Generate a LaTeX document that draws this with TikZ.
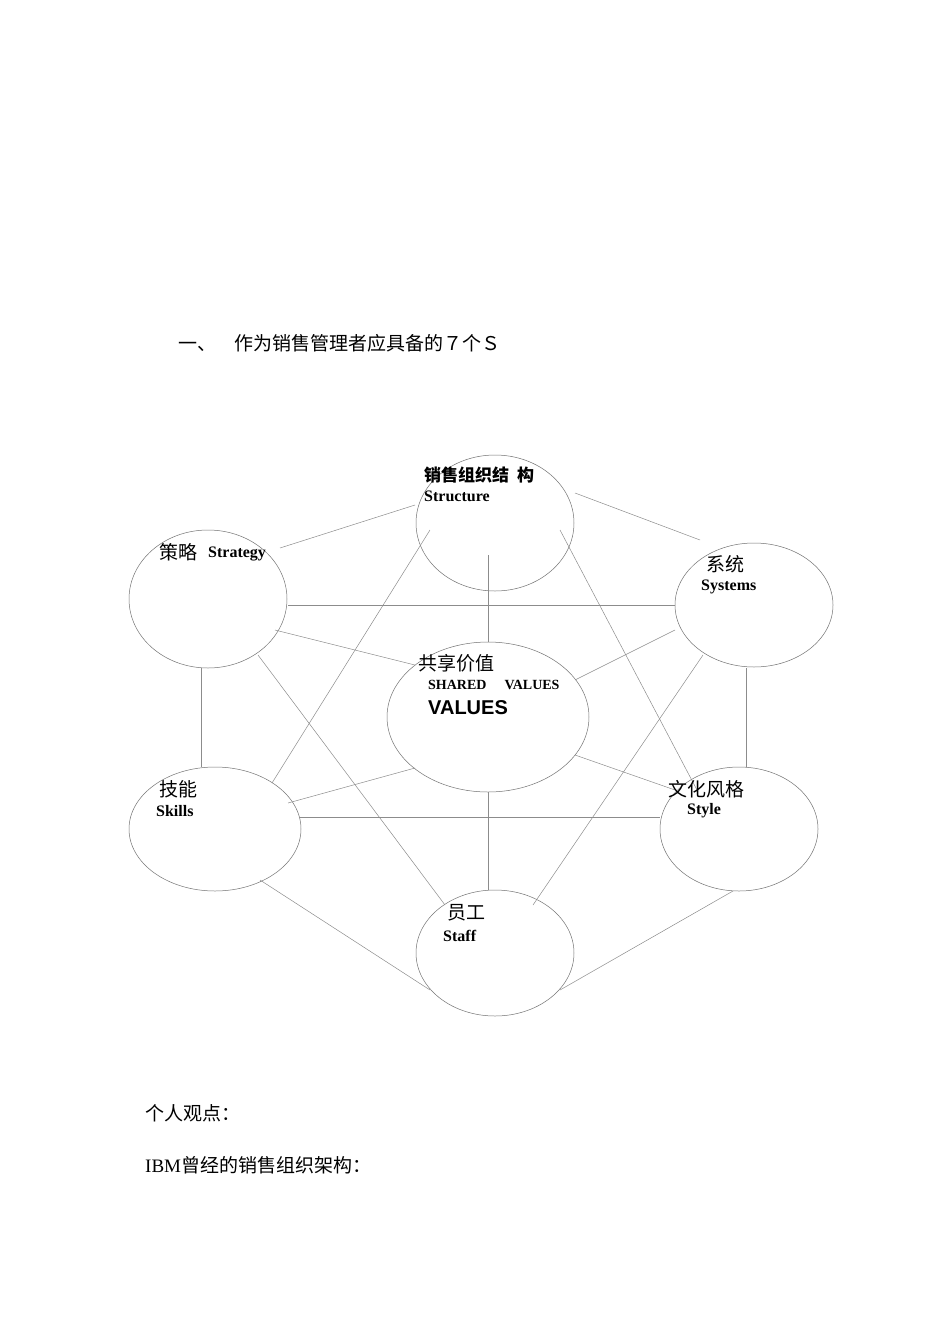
\documentclass[tikz,border=0pt]{standalone}
\usepackage{fontspec}
\setmainfont{Liberation Serif}
\newfontfamily\cjk{Noto Sans CJK SC}
\newfontfamily\arialf{Liberation Sans}
\begin{document}
\begin{tikzpicture}[x=1pt,y=-1pt,
  ell/.style={draw=black!55,line width=0.5pt},
  ln/.style={draw=black!45,line width=0.5pt},
  zh/.style={font=\cjk\fontsize{19}{21}\selectfont,anchor=west,inner sep=0},
  en/.style={font=\bfseries\fontsize{16}{18}\selectfont,anchor=west,inner sep=0}]
\useasboundingbox[fill=white] (0,0) rectangle (950,1344);
\draw[ell] (495,523) ellipse [x radius=79,y radius=68];
\draw[ell] (208,599) ellipse [x radius=79,y radius=69];
\draw[ell] (754,605) ellipse [x radius=79,y radius=62];
\draw[ell] (488,717) ellipse [x radius=101,y radius=75];
\draw[ell] (215,829) ellipse [x radius=86,y radius=62];
\draw[ell] (739,829) ellipse [x radius=79,y radius=62];
\draw[ell] (495,953) ellipse [x radius=79,y radius=63];
\foreach \a/\b in {{280,548}/{415,505},{575,493}/{700,540},{288,605}/{675,605},{275,630}/{415,665},{675,630}/{575,680},{488,555}/{488,642},{430,530}/{272,783},{560,530}/{697,790},{258,655}/{445,905},{703,655}/{533,905},{201,668}/{201,767},{746,668}/{746,767},{288,803}/{415,768},{575,755}/{675,790},{300,817}/{660,817},{488,792}/{488,890},{260,880}/{430,990},{733,891}/{560,990}}
  \draw[ln] (\a) -- (\b);
\node[font=\cjk\fontsize{19}{21}\selectfont,anchor=west,inner sep=0] (title) at (178,343) {一、\hspace{18pt}作为销售管理者应具备的７个Ｓ};
\node[zh,font=\cjk\bfseries\fontsize{17}{19}\selectfont] (t1) at (424,475) {销售组织结\hspace{8pt}构};
\node[en] (e1) at (424,496) {Structure};
\node[zh] (t2) at (159,552) {策略};
\node[en] (e2) at (208,554) {Strategy};
\node[zh] (t3) at (706,564) {系统};
\node[en] (e3) at (701,587) {Systems};
\node[zh] (t4) at (418,663) {共享价值};
\node[en,font=\bfseries\fontsize{14}{16}\selectfont] (e4) at (428,685) {SHARED\hspace{18pt}VALUES};
\node[en,font=\arialf\bfseries\fontsize{20}{22}\selectfont] (e4b) at (428,708) {VALUES};
\node[zh] (t5) at (159,789) {技能};
\node[en] (e5) at (156,811) {Skills};
\node[zh] (t6) at (668,789) {文化风格};
\node[en] (e6) at (687,811) {Style};
\node[zh] (t7) at (447,913) {员工};
\node[en] (e7) at (443,936) {Staff};
\node[zh] (p1) at (145,1113) {个人观点：};
\node[zh,font=\fontsize{19}{21}\selectfont] (p2) at (145,1165) {IBM\cjk 曾经的销售组织架构：};
\end{tikzpicture}
\end{document}
